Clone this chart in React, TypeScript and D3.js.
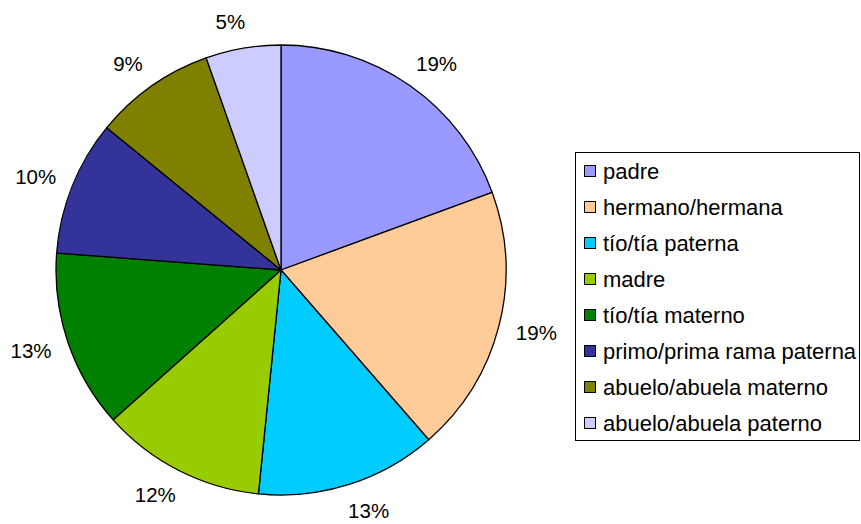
import { useEffect, useRef } from 'react';
import { select, pie, arc } from 'd3';

const categories = [
  'padre',
  'hermano/hermana',
  'tío/tía paterna',
  'madre',
  'tío/tía materno',
  'primo/prima rama paterna',
  'abuelo/abuela materno',
  'abuelo/abuela paterno',
];
const shares = [19.4, 19.2, 13.0, 11.8, 12.8, 9.7, 8.7, 5.4];
const colors = [
  '#9999FF',
  '#FFCC99',
  '#00CCFF',
  '#99CC00',
  '#008000',
  '#333399',
  '#808000',
  '#CCCCFF',
];

const W = 861;
const H = 524;

const render = (node: SVGSVGElement) => {
  const svg = select(node);
  svg.selectAll('*').remove();

  const cx = 281;
  const cy = 270;
  const r = 225;
  const labelR = 252;
  const labelSize = 20.5;
  const font = 'Liberation Sans, Arial, sans-serif';

  const slices = pie<number>().sort(null).value((d) => d)(shares);
  const pieArc = arc<any>().innerRadius(0).outerRadius(r);

  const g = svg.append('g').attr('transform', `translate(${cx},${cy})`);

  // slices
  g.selectAll('path')
    .data(slices)
    .enter()
    .append('path')
    .attr('d', pieArc)
    .attr('fill', (d, i) => colors[i])
    .attr('stroke', '#000')
    .attr('stroke-width', 1.3)
    .attr('stroke-linejoin', 'round');

  // percentage labels, pushed outward like Excel does (box half width)
  const labelPos = (d: any) => {
    const a = (d.startAngle + d.endAngle) / 2;
    const txt = `${Math.round(d.data)}%`;
    const hw = (txt.length === 3 ? 2.0 : 1.445) * labelSize * 0.5;
    const s = Math.sin(a);
    return [labelR * s + Math.sign(s) * hw * 0.55, -labelR * Math.cos(a)];
  };

  g.selectAll('text')
    .data(slices)
    .enter()
    .append('text')
    .attr('x', (d) => labelPos(d)[0])
    .attr('y', (d) => labelPos(d)[1])
    .attr('text-anchor', 'middle')
    .attr('dominant-baseline', 'central')
    .attr('font-family', font)
    .attr('font-size', labelSize)
    .attr('fill', '#000')
    .text((d) => `${Math.round(d.data)}%`);

  // legend
  const lg = svg.append('g');
  lg.append('rect')
    .attr('x', 575.5)
    .attr('y', 152.5)
    .attr('width', 284)
    .attr('height', 288)
    .attr('fill', '#fff')
    .attr('stroke', '#000')
    .attr('stroke-width', 1);

  const rows = lg
    .selectAll('g.item')
    .data(categories)
    .enter()
    .append('g')
    .attr('class', 'item')
    .attr('transform', (d, i) => `translate(584,${171 + i * 36})`);

  rows
    .append('rect')
    .attr('x', 0.5)
    .attr('y', -5.5)
    .attr('width', 11)
    .attr('height', 11)
    .attr('fill', (d, i) => colors[i])
    .attr('stroke', '#000')
    .attr('stroke-width', 1);

  rows
    .append('text')
    .attr('x', 19)
    .attr('y', 0)
    .attr('dominant-baseline', 'central')
    .attr('font-family', font)
    .attr('font-size', 22)
    .attr('fill', '#000')
    .text((d) => d);
};

export default function App() {
  const ref = useRef<SVGSVGElement>(null);

  useEffect(() => {
    if (ref.current) render(ref.current);
  }, []);

  return (
    <svg
      ref={ref}
      width={W}
      height={H}
      style={{ position: 'absolute', left: 0, top: 0, background: '#fff' }}
    />
  );
}
